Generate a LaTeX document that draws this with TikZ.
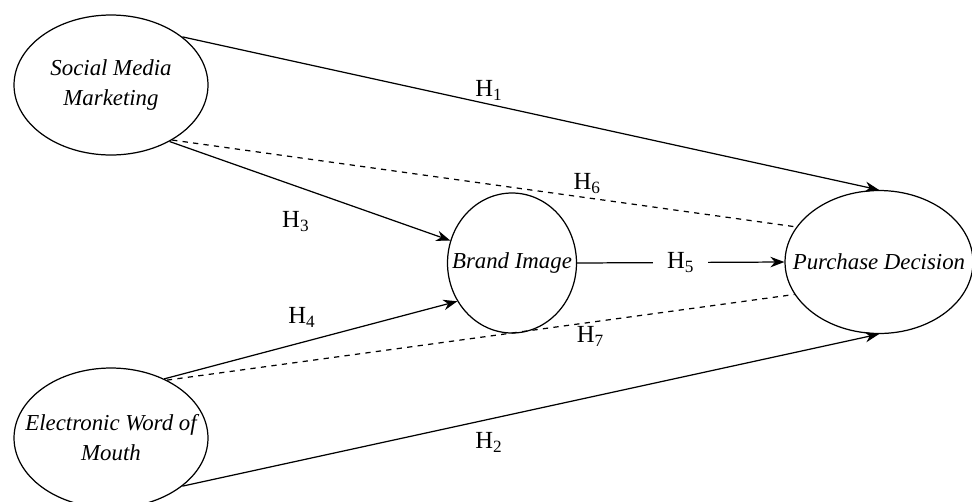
\documentclass[tikz,border=0pt]{standalone}
\usepackage{fontspec}
\setmainfont{Liberation Serif}
\usetikzlibrary{arrows.meta,shapes.geometric}

\begin{document}
\begin{tikzpicture}[
  x=0.02cm, y=-0.02cm,
  construct/.style={draw, ellipse, inner sep=0pt, line width=0.7pt},
  cname/.style={align=center, inner sep=0pt, font=\fontsize{13}{17}\selectfont\itshape},
  hyp/.style={draw=none, font=\fontsize{14}{16}\selectfont, inner sep=2pt},
  path/.style={line width=0.7pt},
  >={Stealth[length=8pt,width=6pt]}
]
\useasboundingbox (0,0) rectangle (972,501);

\node[construct, minimum width=3.88cm, minimum height=2.8cm,  label={[cname]center:Social Media\\Marketing}]       (smm)  at (111,85)  {};
\node[construct, minimum width=3.88cm, minimum height=2.8cm,  label={[cname]center:Electronic Word of\\Mouth}] (ewom) at (111,438) {};
\node[construct, minimum width=2.58cm, minimum height=2.8cm,  label={[cname]center:Brand Image}]              (bi)   at (512,263) {};
\node[construct, minimum width=3.76cm, minimum height=2.86cm, label={[cname]center:Purchase Decision}]        (pd)   at (879,262) {};

\draw[path, ->] (smm.34) -- node[hyp, pos=0.44, above] {H\textsubscript{1}} (pd.north);
\draw[path, ->] (ewom.-34) -- node[hyp, pos=0.44, below=5pt] {H\textsubscript{2}} (pd.south);
\draw[path, ->] (smm.-44) -- node[hyp, pos=0.45, below=12pt] {H\textsubscript{3}} (bi.160);
\draw[path, ->] (ewom.48) -- node[hyp, pos=0.47, above=6pt] {H\textsubscript{4}} (bi.215);
\draw[path, ->] (bi.east) -- node[hyp, fill=white, inner xsep=8pt] {H\textsubscript{5}} (pd.west);
\draw[path, dashed] (smm.-42) -- node[hyp, pos=0.665, above] {H\textsubscript{6}} (pd.157);
\draw[path, dashed] (ewom.46) -- node[hyp, pos=0.675, below] {H\textsubscript{7}} (pd.201);
\end{tikzpicture}
\end{document}
